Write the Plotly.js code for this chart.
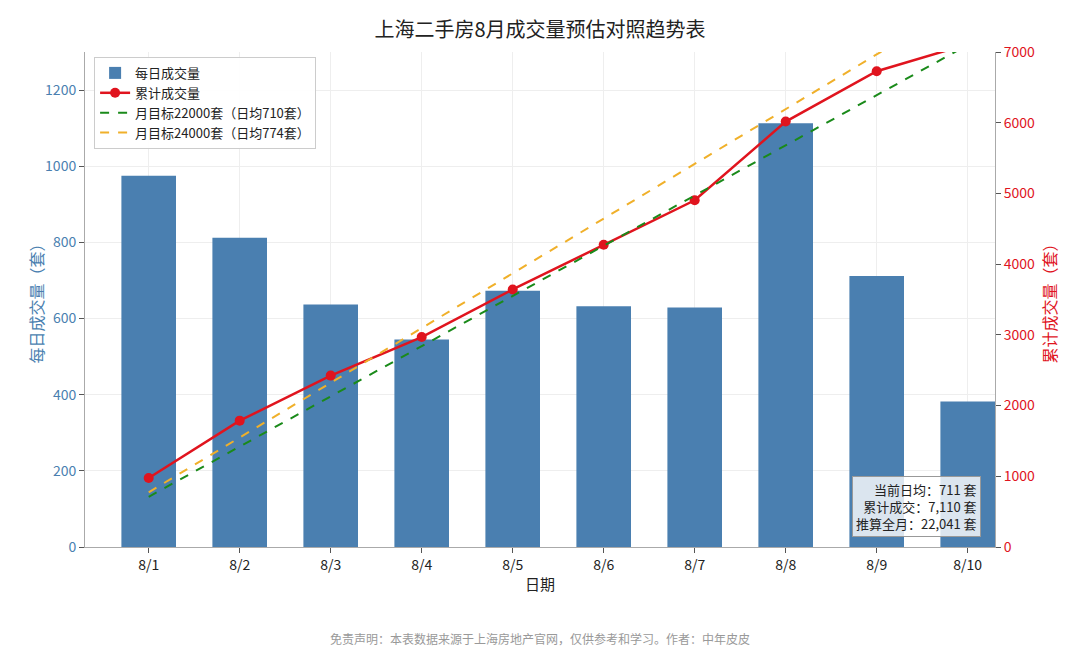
<!DOCTYPE html>
<html><head><meta charset="utf-8">
<script src="https://cdn.plot.ly/plotly-3.0.1.min.js"></script>
<style>body{margin:0;background:#fff}#chart{width:1080px;height:657px}</style>
</head><body><div id="chart"></div>
<script>
const days = ["8/1","8/2","8/3","8/4","8/5","8/6","8/7","8/8","8/9","8/10"];
const daily = [975, 812, 637, 545, 673, 632, 629, 1113, 712, 382];
const cumulative = [975, 1787, 2424, 2969, 3642, 4274, 4903, 6016, 6728, 7110];
const target22000 = [710, 1420, 2130, 2840, 3550, 4260, 4970, 5680, 6390, 7100];
const target24000 = [774, 1548, 2322, 3096, 3870, 4644, 5418, 6192, 6966, 7740];

const F = "Noto Sans CJK SC, sans-serif";
const blue = "#4a7fb0", red = "#e0141e";

var data = [
  {type:"bar", x:days, y:daily, name:"每日成交量", marker:{color:blue}, width:0.6, yaxis:"y"},
  {type:"scatter", mode:"lines+markers", x:days, y:cumulative, name:"累计成交量", yaxis:"y2",
   line:{color:red, width:2.5}, marker:{color:red, size:10}},
  {type:"scatter", mode:"lines", x:days, y:target22000, name:"月目标22000套（日均710套）", yaxis:"y2",
   line:{color:"#1a8a1a", width:2, dash:"dash"}},
  {type:"scatter", mode:"lines", x:days, y:target24000, name:"月目标24000套（日均774套）", yaxis:"y2",
   line:{color:"#f0b02a", width:2, dash:"dash"}}
];

var layout = {
  width:1080, height:657,
  margin:{l:85, r:85, t:52, b:110},
  font:{family:F, size:14, color:"#222"},
  title:{text:"上海二手房8月成交量预估对照趋势表", font:{size:20, color:"#222"}, x:0.5, y:0.965},
  showlegend:true,
  legend:{x:0.01, y:0.99, bgcolor:"rgba(255,255,255,0.9)", bordercolor:"#ccc", borderwidth:1, font:{size:13}},
  xaxis:{range:[-0.7, 9.3], title:{text:"日期", font:{size:15}, standoff:6}, showgrid:true, gridcolor:"#eee",
    ticks:"outside", ticklen:5, tickcolor:"#555", showline:true, linecolor:"#aaa"},
  yaxis:{range:[0,1300], dtick:200, title:{text:"每日成交量（套）", font:{size:16, color:blue}},
    tickfont:{color:blue}, showgrid:true, gridcolor:"#eee", ticks:"outside", ticklen:5, tickcolor:"#555",
    showline:true, linecolor:"#aaa", zeroline:false},
  yaxis2:{range:[0,7000], dtick:1000, overlaying:"y", side:"right",
    title:{text:"累计成交量（套）", font:{size:16, color:red}}, tickfont:{color:red},
    showgrid:false, ticks:"outside", ticklen:5, tickcolor:"#555", showline:true, linecolor:"#aaa", zeroline:false},
  bargap:0.4,
  annotations:[
    {xref:"paper", yref:"paper", x:0.985, y:0.02, xanchor:"right", yanchor:"bottom", align:"right",
     text:"当前日均：711 套<br>累计成交：7,110 套<br>推算全月：22,041 套", showarrow:false,
     font:{size:13, color:"#222"}, bgcolor:"rgba(255,255,255,0.8)", bordercolor:"#999", borderwidth:1, borderpad:3},
    {xref:"paper", yref:"paper", x:0.5, y:-0.185, xanchor:"center", yanchor:"middle", showarrow:false,
     text:"免责声明：本表数据来源于上海房地产官网，仅供参考和学习。作者：中年皮皮", font:{size:12, color:"#999"}}
  ],
  plot_bgcolor:"#fff", paper_bgcolor:"#fff"
};
Plotly.newPlot("chart", data, layout, {displayModeBar:false});
</script></body></html>
